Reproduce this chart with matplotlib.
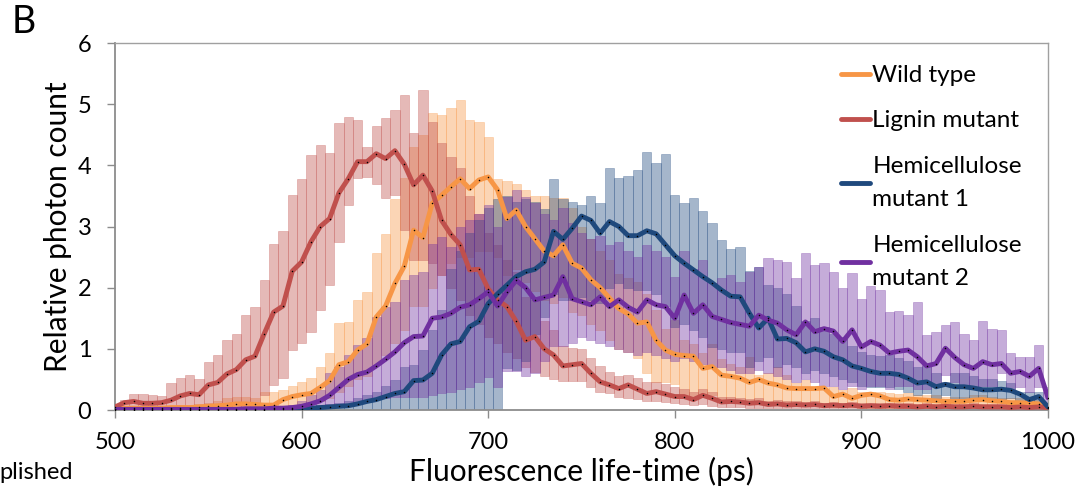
import numpy as np
import matplotlib
matplotlib.use("Agg")
import matplotlib.pyplot as plt

plt.rcParams['font.family'] = ['Lato', 'DejaVu Sans']

# ---------------- data (5 ps bins, 500..1000 ps) ----------------
time_ps = np.arange(500, 1001, 5)

series_labels = ['Wild type', 'Lignin mutant', 'Hemicellulose\nmutant 1', 'Hemicellulose\nmutant 2']

wild_line = [0.02, 0.03, 0.03, 0.03, 0.03, 0.03, 0.04, 0.04, 0.04, 0.05,
             0.06, 0.07, 0.08, 0.10, 0.10, 0.09, 0.08, 0.08, 0.17, 0.22,
             0.25, 0.27, 0.37, 0.48, 0.74, 0.79, 0.98, 1.08, 1.52, 1.70,
             2.07, 2.35, 2.94, 2.82, 3.38, 3.51, 3.65, 3.78, 3.62, 3.76,
             3.81, 3.60, 3.13, 3.27, 3.00, 2.80, 2.60, 2.52, 2.70, 2.40,
             2.32, 2.13, 2.00, 1.83, 1.66, 1.57, 1.42, 1.44, 1.14, 0.98,
             0.91, 0.89, 0.88, 0.68, 0.71, 0.57, 0.55, 0.52, 0.45, 0.50,
             0.44, 0.41, 0.36, 0.35, 0.35, 0.35, 0.36, 0.22, 0.26, 0.19,
             0.24, 0.26, 0.23, 0.17, 0.16, 0.18, 0.17, 0.16, 0.15, 0.14,
             0.14, 0.14, 0.16, 0.17, 0.15, 0.14, 0.12, 0.12, 0.11, 0.10,
             0.03]
wild_lo = [0.00, 0.00, 0.00, 0.00, 0.00, 0.00, 0.00, 0.00, 0.00, 0.00,
           0.00, 0.00, 0.00, 0.01, 0.01, 0.01, 0.01, 0.02, 0.05, 0.08,
           0.10, 0.12, 0.15, 0.20, 0.30, 0.40, 0.50, 0.55, 0.75, 0.90,
           1.10, 1.30, 1.70, 1.70, 2.00, 2.20, 2.40, 2.50, 2.50, 2.60,
           2.60, 2.50, 2.20, 2.30, 2.10, 1.95, 1.80, 1.75, 1.85, 1.60,
           1.55, 1.40, 1.30, 1.15, 1.00, 0.95, 0.85, 0.60, 0.45, 0.45,
           0.42, 0.25, 0.22, 0.25, 0.25, 0.17, 0.16, 0.15, 0.14, 0.10,
           0.09, 0.09, 0.08, 0.07, 0.07, 0.06, 0.06, 0.05, 0.05, 0.05,
           0.04, 0.04, 0.04, 0.04, 0.04, 0.04, 0.04, 0.04, 0.04, 0.04,
           0.03, 0.03, 0.03, 0.03, 0.03, 0.03, 0.03, 0.03, 0.03, 0.03,
           0.02]
wild_hi = [0.04, 0.05, 0.05, 0.05, 0.06, 0.06, 0.07, 0.08, 0.08, 0.10,
           0.12, 0.14, 0.20, 0.22, 0.22, 0.20, 0.30, 0.30, 0.33, 0.40,
           0.46, 0.52, 0.71, 0.93, 1.42, 1.44, 1.80, 1.93, 2.56, 2.88,
           3.45, 3.80, 4.30, 4.50, 4.85, 4.82, 4.94, 5.06, 4.74, 4.71,
           4.47, 3.78, 3.75, 3.70, 3.60, 3.50, 3.50, 3.46, 3.46, 3.30,
           3.00, 2.80, 2.60, 2.45, 2.23, 2.15, 2.10, 1.90, 1.63, 1.33,
           1.47, 1.14, 1.08, 0.93, 1.08, 0.84, 0.76, 0.71, 0.87, 0.57,
           0.60, 0.71, 0.57, 0.44, 0.49, 0.35, 0.38, 0.38, 0.33, 0.36,
           0.30, 0.30, 0.30, 0.27, 0.26, 0.27, 0.25, 0.24, 0.24, 0.22,
           0.22, 0.22, 0.24, 0.25, 0.22, 0.20, 0.20, 0.19, 0.18, 0.16,
           0.10]

lignin_line = [0.05, 0.12, 0.14, 0.11, 0.11, 0.12, 0.16, 0.23, 0.27, 0.25,
               0.41, 0.45, 0.59, 0.66, 0.82, 0.88, 1.25, 1.60, 1.70, 2.27,
               2.42, 2.75, 3.00, 3.13, 3.55, 3.78, 4.06, 4.06, 4.19, 4.11,
               4.24, 4.02, 3.68, 3.84, 3.58, 3.10, 2.87, 2.70, 2.29, 2.30,
               1.98, 1.80, 1.69, 1.45, 1.14, 1.20, 1.00, 0.90, 0.72, 0.74,
               0.76, 0.60, 0.46, 0.41, 0.35, 0.41, 0.34, 0.27, 0.30, 0.26,
               0.22, 0.22, 0.17, 0.24, 0.19, 0.13, 0.14, 0.13, 0.11, 0.12,
               0.09, 0.10, 0.08, 0.09, 0.08, 0.09, 0.07, 0.08, 0.07, 0.08,
               0.06, 0.07, 0.06, 0.07, 0.06, 0.06, 0.05, 0.06, 0.05, 0.06,
               0.05, 0.05, 0.06, 0.05, 0.05, 0.05, 0.04, 0.05, 0.04, 0.05,
               0.04]
lignin_lo = [0.01, 0.01, 0.01, 0.01, 0.01, 0.01, 0.01, 0.01, 0.01, 0.01,
             0.01, 0.01, 0.01, 0.01, 0.01, 0.02, 0.25, 0.41, 0.52, 0.98,
             1.09, 1.28, 1.63, 2.05, 2.75, 3.35, 3.79, 3.81, 3.70, 3.46,
             3.51, 2.95, 2.45, 2.45, 2.40, 2.20, 2.00, 1.80, 1.55, 1.40,
             1.20, 1.10, 0.95, 0.85, 0.70, 0.62, 0.55, 0.50, 0.47, 0.48,
             0.48, 0.38, 0.30, 0.27, 0.22, 0.20, 0.18, 0.14, 0.14, 0.13,
             0.12, 0.10, 0.08, 0.10, 0.07, 0.05, 0.05, 0.05, 0.04, 0.04,
             0.03, 0.03, 0.03, 0.03, 0.03, 0.03, 0.03, 0.03, 0.03, 0.03,
             0.03, 0.03, 0.03, 0.03, 0.03, 0.03, 0.03, 0.03, 0.03, 0.03,
             0.02, 0.02, 0.02, 0.02, 0.02, 0.02, 0.02, 0.02, 0.02, 0.02,
             0.02]
lignin_hi = [0.08, 0.16, 0.26, 0.26, 0.25, 0.23, 0.44, 0.53, 0.58, 0.50,
             0.78, 0.90, 1.15, 1.24, 1.55, 1.68, 2.12, 2.72, 2.92, 3.52,
             3.78, 4.17, 4.34, 4.20, 4.69, 4.79, 4.74, 4.30, 4.65, 4.77,
             4.91, 5.15, 4.53, 5.23, 4.71, 4.36, 4.14, 3.95, 3.50, 3.20,
             2.90, 2.70, 2.45, 2.25, 1.85, 1.80, 1.45, 1.30, 1.05, 1.02,
             1.00, 0.85, 0.72, 0.62, 0.55, 0.58, 0.52, 0.46, 0.45, 0.42,
             0.38, 0.35, 0.30, 0.35, 0.30, 0.22, 0.22, 0.20, 0.18, 0.20,
             0.15, 0.16, 0.14, 0.15, 0.13, 0.14, 0.12, 0.13, 0.12, 0.13,
             0.11, 0.12, 0.11, 0.12, 0.11, 0.11, 0.10, 0.11, 0.10, 0.11,
             0.10, 0.10, 0.11, 0.10, 0.10, 0.10, 0.09, 0.10, 0.09, 0.10,
             0.08]

hemi1_line = [0.00, 0.00, 0.00, 0.00, 0.00, 0.00, 0.00, 0.00, 0.00, 0.00,
              0.00, 0.00, 0.00, 0.00, 0.00, 0.00, 0.00, 0.01, 0.01, 0.01,
              0.02, 0.03, 0.04, 0.05, 0.06, 0.07, 0.10, 0.14, 0.17, 0.22,
              0.27, 0.30, 0.48, 0.49, 0.60, 0.90, 1.08, 1.12, 1.36, 1.45,
              1.74, 1.90, 2.04, 2.18, 2.26, 2.30, 2.42, 2.92, 2.79, 2.97,
              3.17, 3.10, 2.89, 3.08, 3.00, 2.85, 2.85, 2.93, 2.88, 2.70,
              2.52, 2.40, 2.29, 2.18, 2.08, 1.96, 1.86, 1.85, 1.58, 1.34,
              1.50, 1.16, 1.17, 1.10, 0.95, 1.00, 0.96, 0.87, 0.82, 0.72,
              0.68, 0.63, 0.60, 0.60, 0.58, 0.52, 0.44, 0.46, 0.38, 0.42,
              0.38, 0.38, 0.36, 0.33, 0.33, 0.34, 0.32, 0.26, 0.17, 0.22,
              0.05]
hemi1_lo = [0.00, 0.00, 0.00, 0.00, 0.00, 0.00, 0.00, 0.00, 0.00, 0.00,
            0.00, 0.00, 0.00, 0.00, 0.00, 0.00, 0.00, 0.00, 0.00, 0.00,
            0.00, 0.00, 0.00, 0.00, 0.00, 0.00, 0.00, 0.00, 0.00, 0.00,
            0.00, 0.00, 0.00, 0.00, 0.00, 0.00, 0.00, 0.00, 0.00, 0.00,
            0.00, 0.00, 0.68, 0.66, 0.80, 1.25, 1.52, 1.90, 1.80, 1.80,
            1.85, 1.80, 1.75, 2.00, 2.07, 2.00, 1.96, 1.96, 1.90, 1.70,
            1.36, 1.40, 1.30, 1.20, 1.03, 1.00, 0.95, 0.95, 0.70, 0.80,
            0.87, 0.70, 0.75, 0.70, 0.60, 0.65, 0.60, 0.55, 0.50, 0.45,
            0.40, 0.38, 0.38, 0.38, 0.35, 0.30, 0.25, 0.28, 0.20, 0.25,
            0.20, 0.20, 0.20, 0.18, 0.18, 0.18, 0.20, 0.15, 0.08, 0.12,
            0.02]
hemi1_hi = [0.01, 0.01, 0.01, 0.01, 0.01, 0.01, 0.01, 0.01, 0.01, 0.01,
            0.01, 0.01, 0.01, 0.01, 0.01, 0.01, 0.01, 0.01, 0.01, 0.02,
            0.05, 0.06, 0.08, 0.10, 0.12, 0.15, 0.20, 0.25, 0.30, 0.40,
            0.49, 0.71, 0.74, 0.98, 1.30, 1.63, 2.30, 2.60, 2.90, 3.10,
            3.30, 3.45, 3.50, 3.40, 3.45, 3.40, 3.29, 3.77, 3.45, 3.40,
            3.35, 3.50, 3.39, 3.95, 3.80, 3.82, 3.93, 4.22, 4.04, 4.19,
            3.51, 3.39, 3.47, 3.25, 3.06, 2.78, 2.63, 2.67, 2.27, 2.33,
            2.04, 2.00, 1.90, 1.70, 1.45, 1.50, 1.35, 1.25, 1.20, 1.05,
            0.95, 0.90, 0.88, 0.90, 0.85, 0.80, 0.70, 0.72, 0.60, 0.46,
            0.60, 0.60, 0.55, 0.50, 0.50, 0.48, 0.44, 0.30, 0.30, 0.29,
            0.10]

hemi2_line = [0.01, 0.01, 0.01, 0.01, 0.01, 0.01, 0.01, 0.01, 0.01, 0.01,
              0.01, 0.01, 0.01, 0.01, 0.02, 0.02, 0.02, 0.03, 0.03, 0.04,
              0.06, 0.10, 0.15, 0.24, 0.37, 0.50, 0.58, 0.62, 0.72, 0.83,
              0.95, 1.10, 1.20, 1.21, 1.50, 1.52, 1.58, 1.68, 1.72, 1.82,
              1.93, 1.70, 1.93, 2.12, 2.00, 1.80, 1.84, 1.88, 2.18, 1.82,
              1.77, 1.72, 1.85, 1.69, 1.80, 1.68, 1.60, 1.80, 1.72, 1.69,
              1.50, 1.88, 1.58, 1.72, 1.53, 1.48, 1.43, 1.40, 1.37, 1.55,
              1.47, 1.42, 1.31, 1.23, 1.44, 1.28, 1.33, 1.29, 1.12, 1.31,
              1.03, 1.12, 1.06, 0.93, 0.96, 0.98, 0.87, 0.72, 0.76, 1.01,
              0.86, 0.74, 0.68, 0.79, 0.74, 0.76, 0.60, 0.63, 0.55, 0.68,
              0.20]
hemi2_lo = [0.00, 0.00, 0.00, 0.00, 0.00, 0.00, 0.00, 0.00, 0.00, 0.00,
            0.00, 0.00, 0.00, 0.00, 0.00, 0.00, 0.00, 0.00, 0.00, 0.00,
            0.01, 0.02, 0.03, 0.05, 0.08, 0.10, 0.12, 0.15, 0.19, 0.20,
            0.22, 0.22, 0.21, 0.22, 0.25, 0.27, 0.30, 0.35, 0.38, 0.46,
            0.54, 0.38, 0.63, 0.63, 0.55, 0.60, 0.80, 1.05, 1.05, 1.10,
            1.20, 1.15, 1.10, 1.05, 1.00, 0.95, 0.90, 0.95, 0.90, 0.85,
            0.80, 0.85, 0.80, 0.75, 0.70, 0.70, 0.65, 0.60, 0.60, 0.65,
            0.60, 0.55, 0.50, 0.45, 0.50, 0.45, 0.40, 0.40, 0.35, 0.40,
            0.35, 0.40, 0.40, 0.35, 0.40, 0.40, 0.35, 0.35, 0.40, 0.57,
            0.45, 0.40, 0.35, 0.40, 0.40, 0.60, 0.35, 0.38, 0.30, 0.37,
            0.10]
hemi2_hi = [0.02, 0.02, 0.02, 0.02, 0.02, 0.02, 0.02, 0.02, 0.02, 0.02,
            0.02, 0.02, 0.03, 0.03, 0.03, 0.03, 0.04, 0.04, 0.04, 0.08,
            0.14, 0.25, 0.33, 0.60, 0.71, 0.90, 1.06, 1.17, 1.52, 1.69,
            1.77, 2.13, 2.20, 2.26, 2.72, 2.83, 2.67, 2.99, 3.10, 3.21,
            3.35, 3.00, 3.49, 3.60, 3.49, 3.38, 3.20, 3.10, 3.30, 3.05,
            2.90, 2.80, 2.85, 2.70, 2.75, 2.60, 2.50, 2.70, 2.60, 2.50,
            2.18, 2.60, 2.30, 2.45, 2.07, 2.15, 2.20, 2.10, 2.26, 2.33,
            2.48, 2.46, 2.42, 2.15, 2.56, 2.37, 2.40, 2.26, 1.99, 2.24,
            1.82, 2.03, 1.97, 1.61, 1.62, 1.55, 1.77, 1.23, 1.28, 1.39,
            1.44, 1.25, 1.15, 1.45, 1.33, 1.31, 0.93, 0.87, 0.87, 1.06,
            0.38]

x_ticks = [500, 600, 700, 800, 900, 1000]
y_ticks = [0, 1, 2, 3, 4, 5, 6]

colors = ['#F79646', '#C0504D', '#1F497D', '#7030A0']
lines = [wild_line, lignin_line, hemi1_line, hemi2_line]
los = [wild_lo, lignin_lo, hemi1_lo, hemi2_lo]
his = [wild_hi, lignin_hi, hemi1_hi, hemi2_hi]

# ---------------- figure ----------------
fig = plt.figure(figsize=(10.82, 4.98), dpi=100)
ax = fig.add_axes([115 / 1082, 1 - 410 / 498, 933 / 1082, 367 / 498])

for c, lo, hi in zip(colors, los, his):
    lo = np.asarray(lo)
    hi = np.asarray(hi)
    ax.bar(time_ps, hi - lo, bottom=lo, width=5, color=c, alpha=0.4,
           edgecolor=c, linewidth=0.5, zorder=1)

handles = []
for c, y, lab in zip(colors, lines, series_labels):
    h, = ax.plot(time_ps, y, color=c, lw=3.5, solid_capstyle='round',
                 solid_joinstyle='round', label=lab, zorder=3)
    ax.plot(time_ps, y, ls='none', marker='o', ms=1.1, mfc='black',
            mec='none', zorder=4)
    handles.append(h)

ax.set_xlim(500, 1000)
ax.set_ylim(0, 6)
ax.set_xticks(x_ticks)
ax.set_yticks(y_ticks)
ax.tick_params(axis='both', labelsize=17, colors='#8c8c8c', labelcolor='black',
               direction='out', length=6, width=1)
ax.tick_params(axis='y', pad=11)
ax.tick_params(axis='x', pad=10)
for side in ['left', 'bottom', 'top', 'right']:
    ax.spines[side].set_color('#a0a0a0')
    ax.spines[side].set_linewidth(1.0)
ax.spines['left'].set_color('#8c8c8c')
ax.spines['left'].set_linewidth(1.3)
ax.spines['bottom'].set_color('#8c8c8c')
ax.spines['bottom'].set_linewidth(1.3)

ax.set_xlabel('Fluorescence life-time (ps)', fontsize=21.5, labelpad=3)
ax.set_ylabel('Relative photon count', fontsize=21.5, labelpad=4)

leg = ax.legend(handles=handles, loc='upper left', bbox_to_anchor=(0.778, 0.94),
                frameon=False, fontsize=17.5, handlelength=1.2, handletextpad=0.1,
                labelspacing=1.0, borderpad=0, borderaxespad=0)
for t in leg.get_texts():
    t.set_linespacing(1.75)
for lh in leg.get_lines():
    lh.set_linewidth(3.5)

fig.text(12 / 1082, 1 - 4 / 498, 'B', fontsize=27, va='top', ha='left')
fig.text(73 / 1082, 1 - 472 / 498, 'plished', fontsize=17, va='center', ha='right')

fig.savefig('out.png', dpi=100)
